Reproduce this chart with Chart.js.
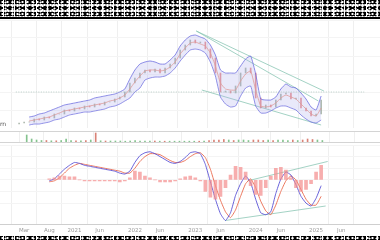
<!DOCTYPE html>
<html>
<head>
<meta charset="utf-8">
<script src="https://cdn.jsdelivr.net/npm/chart.js@4.4.1/dist/chart.umd.min.js"></script>
<style>
  html, body { margin: 0; padding: 0; background: #fff; width: 380px; height: 240px; overflow: hidden; }
  canvas { position: absolute; left: 0; }
  .noise {
    position: absolute; left: 0; width: 380px; background-color: #000;
    background-image:
      radial-gradient(circle, #fff 0.9px, transparent 1.3px),
      radial-gradient(circle, #fff 0.8px, transparent 1.2px),
      radial-gradient(circle, #fff 1px, transparent 1.4px),
      linear-gradient(90deg, transparent 0 3px, #fff 3px 4px, transparent 4px);
    background-size: 5px 4px, 7px 3px, 3px 6px, 11px 2px;
    background-position: 0 0, 2px 1px, 1px 2px, 0 1px;
  }
  .rule { position: absolute; left: 0; width: 380px; }
  #side { position: absolute; left: 0; top: 120px; font: 6px "DejaVu Sans", sans-serif; color: #555; }
</style>
</head>
<body>
<div class="noise" style="top:0;height:17px"></div>
<div class="rule" style="top:17px;height:2px;background:#000"></div>
<canvas id="price" width="380" height="108" style="top:20px"></canvas>
<div id="side">rn</div>
<div class="rule" style="top:131px;height:1px;background:#d4d4d4"></div>
<canvas id="volume" width="380" height="10" style="top:132px"></canvas>
<div class="rule" style="top:142px;height:1px;background:#d4d4d4"></div>
<canvas id="macd" width="380" height="92" style="top:145px"></canvas>
<div class="noise" style="top:236px;height:4px"></div>
<script>
// ===== DATA (one point per month, month 0 = Jan 2020) =====
const tickMonths = [2, 7, 12, 17, 24, 29, 36, 41, 48, 53, 60, 65];
const tickLabels = ['Mar', 'Aug', '2021', 'Jun', '2022', 'Jun', '2023', 'Jun', '2024', 'Jun', '2025', 'Jun'];

// price panel, starts at month 1
const closeStart = 1;
const closes = [5, 6, 6, 9, 8, 11, 10, 14, 14, 18, 17, 20, 19, 22, 21, 24, 23, 26, 26, 29,
  31, 36, 45, 50, 55, 58, 56, 59, 55, 60, 64, 70, 78, 83, 88, 85, 86, 79, 70, 55,
  36, 37, 35, 42, 55, 60, 55, 30, 20, 23, 21, 28, 34, 35, 29, 30, 20, 17, 12, 14, 28];
const volumes = [7, 3, 2, 1.5, 1.5, 1.2, 1.2, 1.5, 3, 1.5, 1.2, 1.2, 1.5, 2, 9, 1.2, 1, 1, 1, 1,
  0.8, 1, 1.5, 1, 0.8, 0.8, 1, 0.8, 0.8, 0.8, 0.8, 0.8, 0.8, 0.8, 0.8, 0.8, 1, 1.5, 2, 2,
  2.5, 2, 1.5, 2, 2, 1.5, 2, 2, 1.5, 2, 1.5, 2, 2, 1.5, 2, 1.5, 2, 3, 2.5, 2, 1.5];

// bollinger bands, start at month 3
const bandStart = 3;
const bandUpper = [11, 12, 14, 15, 17, 19, 21, 23, 24, 25, 26, 27, 28, 30, 31, 32, 33, 34, 36, 39,
  49, 58, 64, 66, 67, 66, 64, 64, 68, 73, 82, 88, 92, 93, 91, 89, 83, 73, 58, 55,
  55, 55, 62, 69, 72, 54, 29, 28, 28, 31, 39, 44, 41, 40, 35, 29, 21, 18, 32];
const bandMid = [7, 8, 9, 10, 11, 13, 15, 17, 18, 19, 20, 21, 22, 23, 24, 25, 27, 28, 30, 33,
  39, 46, 52, 57, 58, 58, 57, 58, 61, 66, 74, 80, 85, 86, 84, 82, 75, 62, 45, 39,
  38, 38, 47, 54, 57, 38, 22, 21, 22, 25, 30, 33, 31, 29, 24, 19, 14, 12, 20];
const bandLower = [3, 4, 4, 5, 6, 8, 9, 11, 13, 14, 15, 16, 16, 17, 18, 19, 21, 22, 24, 27,
  30, 36, 40, 48, 50, 51, 51, 52, 55, 60, 67, 73, 78, 79, 78, 75, 66, 52, 31, 24,
  21, 22, 32, 40, 42, 22, 15, 15, 17, 20, 22, 22, 20, 18, 13, 9, 6, 5, 8];
const refLevel = 36;
const priceTrendA = [[36.2, 97], [61.55, 37]];
const priceTrendB = [[36.2, 97], [60.45, 27]];
const priceTrendC = [[37.3, 38], [61.0, 3]];

// MACD, starts at month 7
const macdStart = 7;
const macdLine = [-1, 1, 6, 11, 15, 18, 17, 15, 14, 13, 12, 11, 10, 9, 7, 6, 9, 18, 25, 28,
  29, 27, 24, 21, 18, 17, 19, 23, 28, 29, 27, 16, -2, -20, -35, -42, -34, -16, -4, 4,
  -3, -20, -34, -36, -33, -14, 1, 8, 5, -5, -17, -24, -27, -19, -6];
const signalLine = [-2, -1, 2, 7, 12, 15, 17, 16, 15, 14, 13, 12, 11, 10, 9, 7, 7, 12, 19, 24,
  27, 27, 26, 23, 20, 18, 18, 20, 24, 27, 28, 23, 11, -6, -21, -33, -39, -31, -17, -4,
  1, -8, -22, -32, -36, -26, -12, -1, 4, 0, -10, -20, -26, -26, -17];
const histogram = [1, 2, 4, 4, 3, 3, 0, -1, -1, -1, -1, -1, -1, -1, -2, -1, 2, 9, 8, 4,
  2, 0, -2, -2, -2, -1, 1, 3, 4, 2, -1, -12, -18, -20, -17, -8, 5, 14, 13, 8,
  -6, -15, -16, -8, 4, 12, 13, 10, 2, -8, -12, -10, -4, 8, 15];
const macdTrendUpper = [[46.4, -1], [62.3, 19]];
const macdTrendLower = [[41.9, -42], [61.9, -27]];

// ===== CHARTS =====
const X_MIN = 0.35, X_MAX = 69.55;
const pts = (arr, start) => arr.map((v, k) => ({ x: start + k, y: v }));
const seg = pair => pair.map(p => ({ x: p[0], y: p[1] }));

function xAxis(showLabels) {
  return {
    type: 'linear', min: X_MIN, max: X_MAX,
    afterBuildTicks: s => { s.ticks = tickMonths.map(v => ({ value: v })); },
    grid: { color: '#efefef', drawTicks: false },
    border: { display: showLabels, color: '#cfcfcf' },
    ticks: {
      display: showLabels, autoSkip: false, maxRotation: 0, padding: 3,
      color: '#9a9a9a', font: { size: 5.5, family: 'DejaVu Sans' },
      callback: (v, i) => tickLabels[i]
    }
  };
}
function yAxis(min, max, step) {
  return {
    min, max,
    ticks: { display: false, stepSize: step },
    grid: { color: '#f4f4f4', drawTicks: false },
    border: { display: false }
  };
}
const base = {
  responsive: false, animation: false, devicePixelRatio: 1,
  layout: { padding: 0 },
  plugins: { legend: { display: false }, tooltip: { enabled: false } },
  elements: { point: { radius: 0 }, line: { tension: 0.15 } }
};
const trend = (data, color) => ({ type: 'line', data, borderColor: color, borderWidth: 0.8, tension: 0, fill: false });

const candles = closes.map((c, k) => ({ x: closeStart + k, y: [k ? closes[k - 1] : c - 1, c] }));
new Chart(document.getElementById('price'), {
  type: 'bar',
  data: {
    datasets: [
      { ...trend([{ x: X_MIN, y: refLevel }, { x: X_MAX, y: refLevel }], '#a9c4bd'), borderDash: [1, 1.5] },
      { type: 'line', data: pts(bandUpper, bandStart), borderColor: '#6f6fe0', borderWidth: 0.8,
        backgroundColor: 'rgba(170,170,235,0.26)', fill: '+1' },
      { type: 'line', data: pts(bandLower, bandStart), borderColor: '#6f6fe0', borderWidth: 0.8, fill: false },
      { type: 'line', data: pts(bandMid, bandStart), borderColor: '#f0957a', borderWidth: 0.8, fill: false },
      { data: candles, barThickness: 1,
        backgroundColor: candles.map(c => c.y[1] >= c.y[0] ? 'rgba(140,155,140,0.7)' : 'rgba(228,110,110,0.75)') },
      trend(seg(priceTrendA), '#8cc7b5'),
      trend(seg(priceTrendB), '#8cc7b5'),
      trend(seg(priceTrendC), '#8cc7b5')
    ]
  },
  options: { ...base, scales: { x: xAxis(false), y: yAxis(0, 108, 18) } }
});

new Chart(document.getElementById('volume'), {
  type: 'bar',
  data: {
    datasets: [{
      data: pts(volumes, closeStart), barThickness: 1,
      backgroundColor: closes.map((c, k) => (k && c < closes[k - 1]) ? '#d98276' : '#84c38e')
    }]
  },
  options: { ...base, scales: { x: xAxis(false), y: { ...yAxis(0, 10, 10), grid: { display: false } } } }
});

new Chart(document.getElementById('macd'), {
  type: 'bar',
  data: {
    datasets: [
      { data: pts(histogram, macdStart), barThickness: 3,
        backgroundColor: 'rgba(244,140,140,0.7)' },
      { type: 'line', data: pts(macdLine, macdStart), borderColor: '#5a52d6', borderWidth: 0.9, fill: false },
      { type: 'line', data: pts(signalLine, macdStart), borderColor: '#ea6a4e', borderWidth: 0.9, fill: false },
      trend(seg(macdTrendUpper), '#8cc7b5'),
      trend(seg(macdTrendLower), '#8cc7b5')
    ]
  },
  options: { ...base, scales: { x: xAxis(true), y: yAxis(-46, 36, 12) } }
});
</script>
</body>
</html>
